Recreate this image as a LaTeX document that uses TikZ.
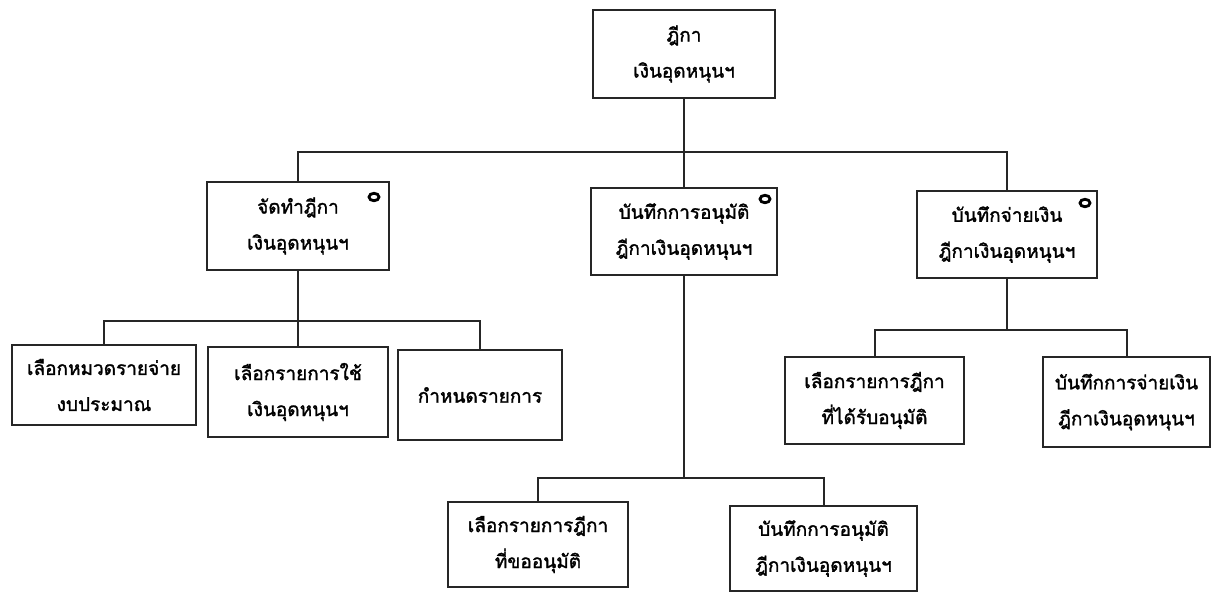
\documentclass[tikz,border=0pt]{standalone}
\usepackage{fontspec}
\newfontfamily\thaifont[Script=Thai,FakeBold=1.6]{Loma}
\usetikzlibrary{shapes.geometric}
\tikzset{
  box/.style={draw=black!85, line width=2pt, align=center, inner sep=2pt,
    font=\thaifont\fontsize{19}{36}\selectfont},
  conn/.style={draw=black!85, line width=2pt},
  ringmark/.style={draw=black, line width=2.8pt, ellipse, inner sep=0pt,
    minimum width=10pt, minimum height=7.5pt},
}
\newcommand{\bx}[6]{% name, l, r, t, b, text
  \node[box, minimum width={(#3-#2)*1pt}, minimum height={(#5-#4)*1pt}] (#1) at ({(#2+#3)/2},{-(#4+#5)/2}) {#6};}
\begin{document}
\begin{tikzpicture}[x=1pt,y=1pt]
\useasboundingbox (0,0) rectangle (1217,-595);
% level 1
\bx{top}{593}{775}{10}{98}{ฎีกา\\เงินอุดหนุนฯ}
% level 2
\bx{sa}{207}{389}{182}{270}{จัดทำฎีกา\\เงินอุดหนุนฯ}
\bx{sb}{591}{777}{188}{275}{บันทึกการอนุมัติ\\ฎีกาเงินอุดหนุนฯ}
\bx{sc}{917}{1097}{191}{278}{บันทึกจ่ายเงิน\\ฎีกาเงินอุดหนุนฯ}
\node[ringmark] (ra) at (374,-197) {};
\node[ringmark] (rb) at (765,-199) {};
\node[ringmark] (rc) at (1085,-203) {};
% level 3 left
\bx{a1}{12}{196}{345}{425}{เลือกหมวดรายจ่าย\\งบประมาณ}
\bx{a2}{208}{388}{347}{437}{เลือกรายการใช้\\เงินอุดหนุนฯ}
\bx{a3}{398}{562}{350}{440}{กำหนดรายการ}
% level 3 right
\bx{c1}{785}{964}{357}{444}{เลือกรายการฎีกา\\ที่ได้รับอนุมัติ}
\bx{c2}{1043}{1210}{357}{447}{บันทึกการจ่ายเงิน\\ฎีกาเงินอุดหนุนฯ}
% level 3 middle
\bx{b1}{448}{628}{502}{587}{เลือกรายการฎีกา\\ที่ขออนุมัติ}
\bx{b2}{730}{917}{506}{591}{บันทึกการอนุมัติ\\ฎีกาเงินอุดหนุนฯ}
% buses
\coordinate (bus1) at (684,-152);
\coordinate (busa) at (298,-321);
\coordinate (busc) at (1007,-330);
\coordinate (busb) at (684,-478);
% connectors
\draw[conn] (top.south) -- (sb.north);
\draw[conn] (sa.north) |- (bus1) -| (sc.north);
\draw[conn] (sa.south) -- (a2.north);
\draw[conn] (a1.north) |- (busa) -| (a3.north);
\draw[conn] (sc.south) -- (busc);
\draw[conn] (c1.north) |- (busc) -| (c2.north);
\draw[conn] (sb.south) -- (busb);
\draw[conn] (b1.north) |- (busb) -| (b2.north);
\end{tikzpicture}
\end{document}
